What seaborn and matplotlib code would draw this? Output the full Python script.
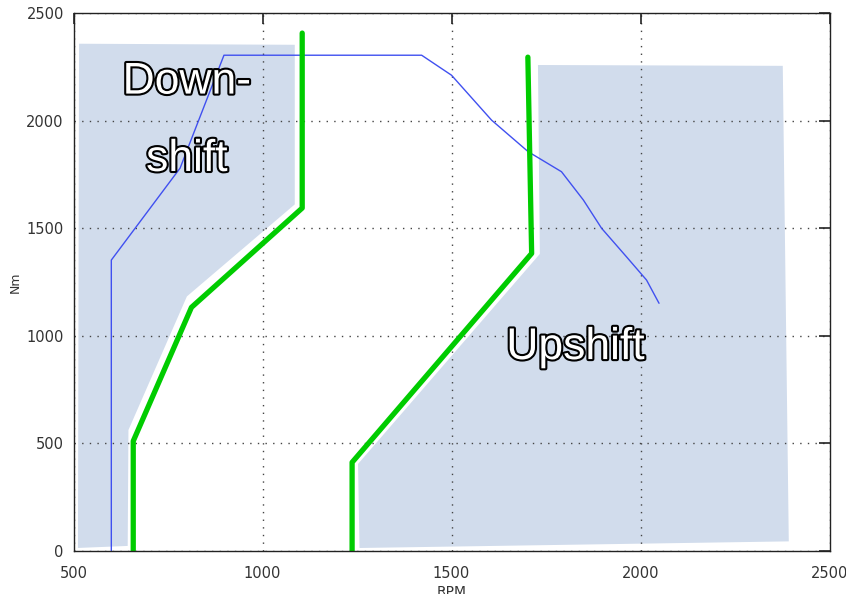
import matplotlib
matplotlib.use("Agg")
import matplotlib.pyplot as plt
import matplotlib.patheffects as pe
import numpy as np
import pandas as pd
import seaborn as sns

# Engine full-load torque curve
torque_rpm = [600, 600, 782, 898, 1421, 1500, 1606, 1703, 1791, 1849, 1897, 1963, 2016, 2049]
torque_nm = [0, 1352, 1780, 2305, 2305, 2212, 2003, 1856, 1763, 1631, 1500, 1367, 1259, 1151]

# Shift lines
down_rpm = [1105, 1105, 812, 658, 658]
down_nm = [2408, 1594, 1132, 510, 0]
up_rpm = [1702, 1712, 1237, 1237]
up_nm = [2296, 1383, 411, 0]

# Shaded shift zones
down_zone_rpm = [511, 1089, 1089, 803, 649, 647, 508]
down_zone_nm = [2365, 2360, 1608, 1179, 560, 16, 6]
up_zone_rpm = [1725, 2380, 2396, 1253, 1249, 1730]
up_zone_nm = [2266, 2262, 37, 6, 406, 1383]

x_ticks = [500, 1000, 1500, 2000, 2500]
y_ticks = [0, 500, 1000, 1500, 2000, 2500]

sns.set_style("white")
plt.rcParams["font.family"] = ["Liberation Sans", "DejaVu Sans"]

fig = plt.figure(figsize=(8.46, 5.94), dpi=100)
ax = fig.add_axes([0.0869, 0.0729, 0.8936, 0.9047])

zone_color = "#d1dcec"
ax.fill(down_zone_rpm, down_zone_nm, facecolor=zone_color, edgecolor="white", linewidth=2.0, zorder=1)
ax.fill(up_zone_rpm, up_zone_nm, facecolor=zone_color, edgecolor="white", linewidth=2.0, zorder=1)

torque = pd.DataFrame({"rpm": torque_rpm, "nm": torque_nm})
down = pd.DataFrame({"rpm": down_rpm, "nm": down_nm})
up = pd.DataFrame({"rpm": up_rpm, "nm": up_nm})

sns.lineplot(data=torque, x="rpm", y="nm", sort=False, estimator=None, color="#4050f0", linewidth=1.0, ax=ax, zorder=3)
sns.lineplot(data=down, x="rpm", y="nm", sort=False, estimator=None, color="#00cc00", linewidth=3.8, ax=ax, zorder=4)
sns.lineplot(data=up, x="rpm", y="nm", sort=False, estimator=None, color="#00cc00", linewidth=3.8, ax=ax, zorder=4)

ax.set_xlim(500, 2500)
ax.set_ylim(0, 2500)
ax.set_xticks(x_ticks)
ax.set_yticks(y_ticks)
ax.set_xticklabels([str(t) for t in x_ticks], family="DejaVu Sans")
ax.set_yticklabels([str(t) for t in y_ticks], family="DejaVu Sans")

ax.grid(True, linestyle=(0, (1, 4.5)), color="#444444", linewidth=1.0, zorder=2)
ax.set_axisbelow(False)
for s in ax.spines.values():
    s.set_visible(True)
    s.set_color("#222222")
    s.set_linewidth(1.0)
    s.set_zorder(5)

ax.tick_params(axis="both", direction="in", length=8, width=1.2, color="#222222",
               labelsize=10.5, labelcolor="#333333", top=True, right=True)
ax.tick_params(axis="y", pad=7)
ax.tick_params(axis="x", pad=11)

ax.set_xlabel("RPM", fontsize=10, color="#333333", labelpad=3, family="DejaVu Sans")
ax.set_ylabel("Nm", fontsize=9, color="#333333", labelpad=3, family="DejaVu Sans")

outline = [pe.withStroke(linewidth=3, foreground="black")]
ax.text(800, 2180, "Down-", fontsize=32, color="white", ha="center", va="center",
        path_effects=outline, zorder=6)
ax.text(800, 1820, "shift", fontsize=32, color="white", ha="center", va="center",
        path_effects=outline, zorder=6)
ax.text(1828, 945, "Upshift", fontsize=32, color="white", ha="center", va="center",
        path_effects=outline, zorder=6)

fig.savefig("out.png", dpi=100)
